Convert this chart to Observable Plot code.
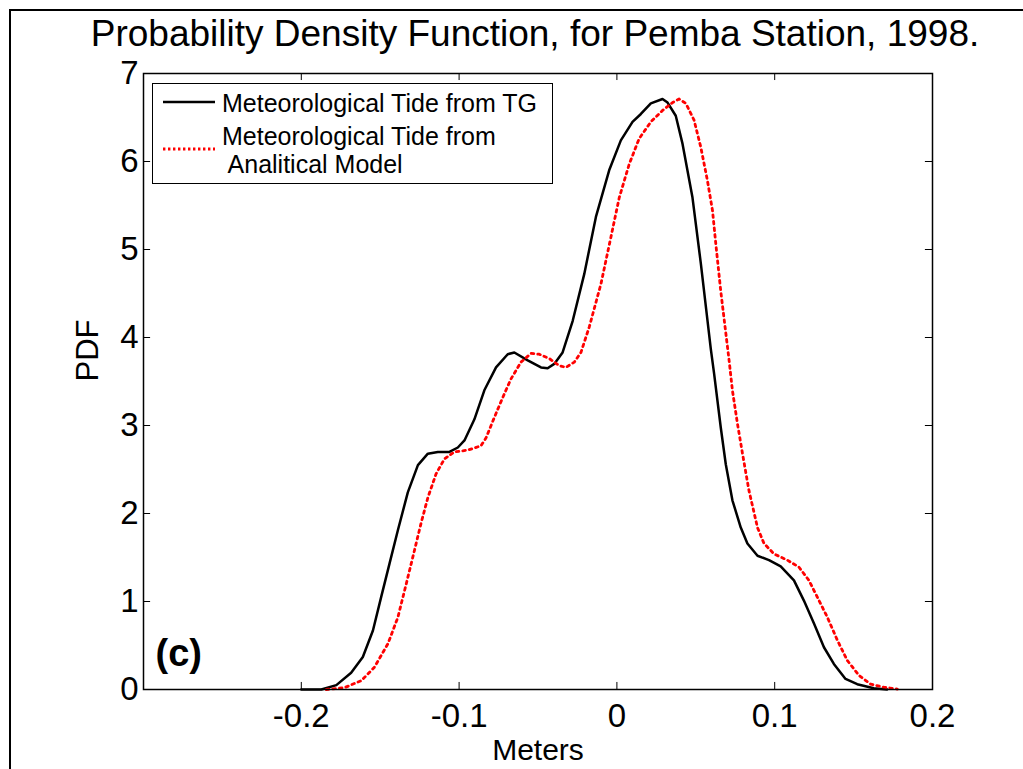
<!DOCTYPE html>
<html>
<head>
<meta charset="utf-8">
<script src="https://cdn.jsdelivr.net/npm/d3@7"></script>
<script src="https://cdn.jsdelivr.net/npm/@observablehq/plot@0.6"></script>
<style>
  html, body { margin: 0; padding: 0; background: #fff; overflow: hidden; }
  #wrap { position: relative; width: 1023px; height: 769px; overflow: hidden; font-family: "Liberation Sans", Arial, sans-serif; }
  #outer { position: absolute; left: 9px; top: 9px; width: 1100px; height: 900px; border-top: 2px solid #000; border-left: 2px solid #000; }
  #chart { position: absolute; left: 0; top: 0; }
  #legend { position: absolute; left: 0; top: 0; }
</style>
</head>
<body>
<div id="wrap">
  <div id="outer"></div>
  <div id="chart"></div>
  <svg id="legend" width="1023" height="769"></svg>
</div>
<script>
// ---- data ----
const titleText = "Probability Density Function, for Pemba Station, 1998.";
const xLabel = "Meters";
const yLabel = "PDF";
const panelTag = "(c)";
const seriesNames = ["Meteorological Tide from TG", "Meteorological Tide from", " Analitical Model"];
const xTicks = [-0.2, -0.1, 0, 0.1, 0.2];
const yTicks = [0, 1, 2, 3, 4, 5, 6, 7];

// Meteorological Tide from TG (black solid)
const tgX = [-0.2, -0.1873, -0.1778, -0.1684, -0.161, -0.1546, -0.1494, -0.1441, -0.1388, -0.1325, -0.1261, -0.1198, -0.1135, -0.1061, -0.1008, -0.0966, -0.0903, -0.084, -0.0766, -0.0692, -0.065, -0.0565, -0.0481, -0.0439, -0.0397, -0.0344, -0.028, -0.0207, -0.0133, -0.0049, 0.0025, 0.0099, 0.0152, 0.0215, 0.0289, 0.0321, 0.0373, 0.0416, 0.0479, 0.0532, 0.0595, 0.0616, 0.0658, 0.069, 0.0732, 0.0785, 0.0827, 0.0891, 0.0964, 0.1038, 0.1122, 0.1185, 0.1249, 0.1312, 0.1375, 0.1449, 0.1523, 0.1628, 0.1713];
const tgY = [0, 0, 0.05, 0.19, 0.37, 0.67, 1.05, 1.43, 1.81, 2.24, 2.55, 2.68, 2.70, 2.70, 2.75, 2.83, 3.07, 3.40, 3.66, 3.81, 3.83, 3.74, 3.66, 3.65, 3.70, 3.83, 4.19, 4.72, 5.37, 5.90, 6.24, 6.45, 6.54, 6.66, 6.71, 6.67, 6.52, 6.20, 5.59, 4.84, 3.87, 3.59, 2.98, 2.56, 2.15, 1.84, 1.66, 1.52, 1.47, 1.40, 1.24, 1.01, 0.75, 0.48, 0.29, 0.12, 0.06, 0.015, 0];

// Meteorological Tide from Analitical Model (red dotted)
const modelX = [-0.1842, -0.1728, -0.162, -0.1538, -0.1451, -0.1388, -0.1335, -0.1283, -0.1241, -0.1198, -0.1146, -0.1093, -0.103, -0.0945, -0.0861, -0.0829, -0.0777, -0.0723, -0.0671, -0.0608, -0.0544, -0.0492, -0.0428, -0.0365, -0.0323, -0.027, -0.0228, -0.0175, -0.0101, -0.0038, 0.0015, 0.0078, 0.0141, 0.0215, 0.0289, 0.0353, 0.0394, 0.0437, 0.0489, 0.0532, 0.0574, 0.0606, 0.0627, 0.0658, 0.0711, 0.0732, 0.0764, 0.0796, 0.0837, 0.0891, 0.0932, 0.0996, 0.108, 0.1154, 0.1217, 0.127, 0.1334, 0.1397, 0.146, 0.1534, 0.1608, 0.1692, 0.1777];
const modelY = [0, 0.02, 0.10, 0.25, 0.52, 0.82, 1.20, 1.58, 1.89, 2.18, 2.45, 2.62, 2.70, 2.72, 2.77, 2.86, 3.09, 3.32, 3.53, 3.72, 3.82, 3.81, 3.76, 3.68, 3.66, 3.72, 3.83, 4.12, 4.61, 5.14, 5.59, 5.97, 6.26, 6.45, 6.58, 6.67, 6.71, 6.66, 6.47, 6.16, 5.78, 5.44, 5.06, 4.53, 3.74, 3.40, 3.02, 2.68, 2.26, 1.84, 1.66, 1.54, 1.47, 1.39, 1.24, 1.05, 0.82, 0.56, 0.33, 0.16, 0.06, 0.026, 0.005];

const xDomain = [-0.3, 0.2];
const yDomain = [0, 7];

const tg = tgX.map((x, i) => ({x, y: tgY[i]}));
const model = modelX.map((x, i) => ({x, y: modelY[i]}));

const font = "Liberation Sans, Arial, sans-serif";
const fmt = d => String(d);
const tickLenX = 0.0045; // inward tick length in x units
const tickLenY = 0.08;   // inward tick length in y units
const redDash = "2.6,4";

const plot = Plot.plot({
  width: 1023,
  height: 769,
  marginLeft: 143,
  marginRight: 91,
  marginTop: 73,
  marginBottom: 80,
  style: {fontFamily: font, color: "#000", background: "transparent", overflow: "visible"},
  x: {domain: xDomain},
  y: {domain: yDomain},
  marks: [
    Plot.line(tg, {x: "x", y: "y", stroke: "#000", strokeWidth: 2.5}),
    Plot.line(model, {x: "x", y: "y", stroke: "#ff0000", strokeWidth: 2.8, strokeDasharray: redDash}),
    // inward ticks
    Plot.ruleX(xTicks, {x: d => d, y1: yDomain[0], y2: yDomain[0] + tickLenY, stroke: "#000", strokeWidth: 1}),
    Plot.ruleX(xTicks, {x: d => d, y1: yDomain[1], y2: yDomain[1] - tickLenY, stroke: "#000", strokeWidth: 1}),
    Plot.ruleY(yTicks, {y: d => d, x1: xDomain[0], x2: xDomain[0] + tickLenX, stroke: "#000", strokeWidth: 1}),
    Plot.ruleY(yTicks, {y: d => d, x1: xDomain[1], x2: xDomain[1] - tickLenX, stroke: "#000", strokeWidth: 1}),
    Plot.frame({stroke: "#000", strokeWidth: 1.5}),
    Plot.axisX({ticks: xTicks, tickFormat: fmt, tickSize: 0, tickPadding: 14, fontSize: 33, label: null, fill: "#000"}),
    Plot.axisY({ticks: yTicks, tickFormat: fmt, tickSize: 0, tickPadding: 5, fontSize: 33, label: null, fill: "#000"}),
    Plot.text([titleText], {frameAnchor: "top", lineAnchor: "middle", dy: -39, dx: -3, fontSize: 37, fill: "#000"}),
    Plot.text([xLabel], {frameAnchor: "bottom", lineAnchor: "middle", dy: 61, fontSize: 30, fill: "#000"}),
    Plot.text([yLabel], {frameAnchor: "left", lineAnchor: "middle", dx: -55, rotate: -90, fontSize: 31, fill: "#000"}),
    Plot.text([panelTag], {frameAnchor: "bottom-left", lineAnchor: "middle", dx: 12, dy: -36, textAnchor: "start", fontSize: 38, fontWeight: "bold", fill: "#000"})
  ]
});
document.getElementById("chart").appendChild(plot);

// legend
const lg = d3.select("#legend");
lg.append("rect").attr("x", 152.5).attr("y", 83.5).attr("width", 400).attr("height", 100)
  .attr("fill", "#fff").attr("stroke", "#000").attr("stroke-width", 1);
lg.append("line").attr("x1", 163).attr("x2", 215).attr("y1", 102).attr("y2", 102)
  .attr("stroke", "#000").attr("stroke-width", 2.5);
lg.append("line").attr("x1", 163).attr("x2", 215).attr("y1", 149).attr("y2", 149)
  .attr("stroke", "#ff0000").attr("stroke-width", 2.8).attr("stroke-dasharray", "2.4,2.6");
const lt = [[222, 112, seriesNames[0]], [222, 145, seriesNames[1]], [222, 173, seriesNames[2]]];
lt.forEach(([x, y, t]) => {
  lg.append("text").attr("x", x).attr("y", y).attr("font-family", font).attr("font-size", 25)
    .attr("fill", "#000").attr("xml:space", "preserve").style("white-space", "pre").text(t);
});
</script>
</body>
</html>
